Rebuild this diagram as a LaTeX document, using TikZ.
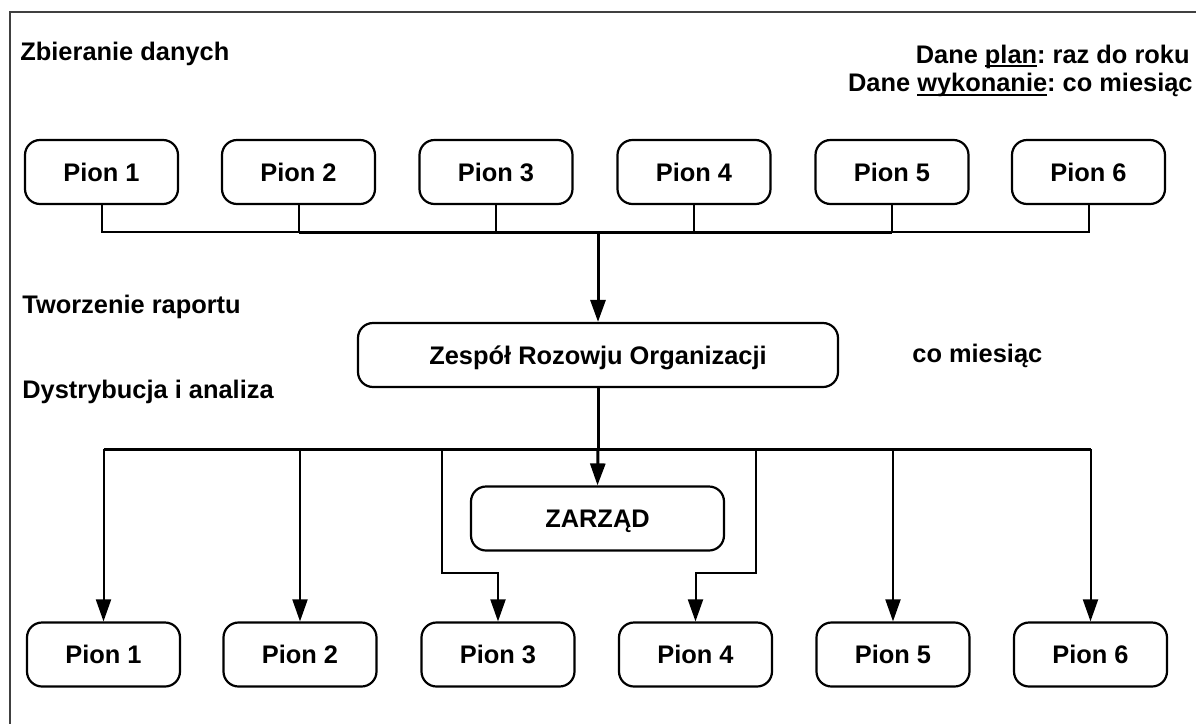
\documentclass[tikz,border=0pt]{standalone}
\usepackage{fontspec}
\setmainfont{Liberation Sans}
\usetikzlibrary{arrows.meta}
\frenchspacing

% underline drawn just below the baseline, as in office documents
\newcommand{\ulword}[1]{\setbox0\hbox{#1}\rlap{\rule[-2.2pt]{\wd0}{1pt}}\box0}

\tikzset{
  txt/.style={font=\fontsize{12.7}{15}\selectfont\bfseries, inner sep=0pt},
  unit/.style={draw, line width=1.1pt, rounded corners=7.5pt, inner sep=0pt,
    minimum width=76.5pt, minimum height=32pt, text depth=0pt, txt},
  widebox/.style={unit, minimum width=240pt},
  boardbox/.style={unit, minimum width=126.5pt},
  conn/.style={line width=1pt},
  mainconn/.style={line width=1.5pt},
  arr/.style={-{Triangle[length=11pt,width=7.5pt]}},
  frame/.style={draw=black!75, line width=1pt}
}

\begin{document}
\begin{tikzpicture}[x=0.5pt,y=-0.5pt]
  \useasboundingbox (0,0) rectangle (1196,724);

  % outer frame (only its top and left edges fall inside the page)
  \draw[frame] (1200,12) -- (9.5,12) -- (9.5,730);

  % section captions
  \node[txt, anchor=base west] (capA) at (20,60.5) {Zbieranie danych};
  \node[txt, anchor=base west] (capB) at (22,313) {Tworzenie raportu};
  \node[txt, anchor=base west] (capC) at (22,398) {Dystrybucja i analiza};
  \node[txt, anchor=base east] (freqA) at (1190,63) {Dane \ulword{plan}: raz do roku};
  \node[txt, anchor=base east] (freqB) at (1193,91.5) {Dane \ulword{wykonanie}: co miesiąc};
  \node[txt, anchor=base west] (freqC) at (912,362) {co miesiąc};

  % data sources
  \node[unit] (t1) at (101.5,172) {Pion 1};
  \node[unit] (t2) at (298.5,172) {Pion 2};
  \node[unit] (t3) at (496,172)   {Pion 3};
  \node[unit] (t4) at (694,172)   {Pion 4};
  \node[unit] (t5) at (892,172)   {Pion 5};
  \node[unit] (t6) at (1088.5,172) {Pion 6};

  % reporting team and board
  \node[widebox] (zro) at (598,355) {Zespół Rozowju Organizacji};
  \node[boardbox] (zarzad) at (597.5,518.5) {ZARZĄD};

  % recipients
  \node[unit] (b1) at (103.5,654.5) {Pion 1};
  \node[unit] (b2) at (300,654.5)   {Pion 2};
  \node[unit] (b3) at (498,654.5)   {Pion 3};
  \node[unit] (b4) at (695.5,654.5) {Pion 4};
  \node[unit] (b5) at (893,654.5)   {Pion 5};
  \node[unit] (b6) at (1090.5,654.5) {Pion 6};

  % collection bus
  \coordinate (topbus) at (598,232);
  \draw[conn] (t1.south) |- (topbus) -| (t6.south);
  \foreach \i in {2,...,5} \draw[conn] (t\i.south) -- (t\i.south |- topbus);
  \draw[mainconn] (t2.south |- topbus) -- (t5.south |- topbus);
  \draw[mainconn, arr] (topbus) -- (zro.north);

  % distribution bus
  \coordinate (botbus) at (598,449);
  \coordinate (left3) at (442,449);
  \coordinate (right4) at (756,449);
  \draw[mainconn] (zro.south) -- (botbus);
  \draw[mainconn] (b1.north |- botbus) -- (b6.north |- botbus);
  \draw[mainconn, arr] (botbus) -- (zarzad.north);
  \foreach \i in {1,2,5,6} \draw[conn, arr] (b\i.north |- botbus) -- (b\i.north);
  \draw[conn, arr] (left3) |- ([yshift=24pt]b3.north) -- (b3.north);
  \draw[conn, arr] (right4) |- ([yshift=24pt]b4.north) -- (b4.north);
\end{tikzpicture}
\end{document}
